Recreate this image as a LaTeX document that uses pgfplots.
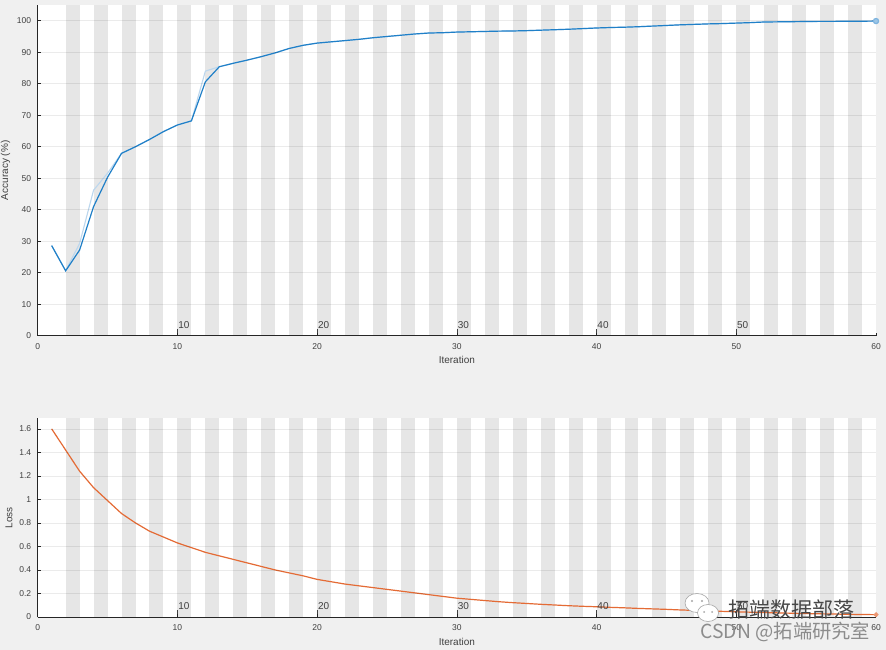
\documentclass[border=0pt]{standalone}
\usepackage{fontspec}
\setmainfont{Liberation Sans}
\newfontfamily\cjk{Noto Sans CJK SC}
\usepackage{pgfplots}
\pgfplotsset{compat=1.18}
\definecolor{bg}{HTML}{F0F0F0}
\definecolor{stripe}{HTML}{E6E6E6}
\definecolor{acc}{HTML}{2080C8}
\definecolor{accraw}{HTML}{BCD7EE}
\definecolor{loss}{HTML}{E46B35}
\definecolor{axc}{HTML}{262626}
\definecolor{tlc}{HTML}{404040}

\pgfplotstableread{
x acc raw
1 28.6 28.6
2 20.6 20.6
3 27.2 29.3
4 41.0 46.2
5 50.3 51.6
6 57.9 57.9
7 60.0 60.0
8 62.3 62.3
9 64.8 64.8
10 66.9 66.9
11 68.2 68.2
12 80.6 84.0
13 85.4 85.4
14 86.5 86.5
15 87.5 87.5
16 88.6 88.6
17 89.8 89.8
18 91.2 91.2
19 92.2 92.2
20 92.9 92.9
21 93.3 93.3
22 93.7 93.7
23 94.1 94.1
24 94.6 94.6
25 95.0 95.0
26 95.4 95.4
27 95.8 95.8
28 96.1 96.1
29 96.2 96.2
30 96.4 96.4
31 96.5 96.5
32 96.6 96.6
33 96.7 96.7
34 96.75 96.75
35 96.85 96.85
36 97.0 97.0
37 97.15 97.15
38 97.3 97.3
39 97.5 97.5
40 97.7 97.7
41 97.85 97.85
42 97.95 97.95
43 98.1 98.1
44 98.3 98.3
45 98.5 98.5
46 98.7 98.7
47 98.85 98.85
48 99.0 99.0
49 99.1 99.1
50 99.25 99.25
51 99.4 99.4
52 99.6 99.6
53 99.65 99.65
54 99.7 99.7
55 99.75 99.75
56 99.8 99.8
57 99.8 99.8
58 99.85 99.85
59 99.85 99.85
60 99.9 99.9
}\acctable

\pgfplotstableread{
x loss
1 1.60
2 1.42
3 1.24
4 1.10
5 0.99
6 0.88
7 0.80
8 0.73
9 0.68
10 0.63
11 0.59
12 0.55
13 0.52
14 0.49
15 0.46
16 0.43
17 0.40
18 0.375
19 0.35
20 0.32
21 0.30
22 0.28
23 0.265
24 0.25
25 0.235
26 0.22
27 0.205
28 0.19
29 0.175
30 0.16
31 0.15
32 0.14
33 0.13
34 0.122
35 0.115
36 0.108
37 0.102
38 0.096
39 0.091
40 0.087
41 0.082
42 0.078
43 0.073
44 0.069
45 0.065
46 0.060
47 0.056
48 0.052
49 0.048
50 0.044
51 0.041
52 0.038
53 0.035
54 0.032
55 0.029
56 0.027
57 0.025
58 0.023
59 0.021
60 0.020
}\losstable

\pgfplotsset{
  trainaxis/.style={
    scale only axis, width=838.3pt,
    xmin=0, xmax=60, xtick={0,10,...,60},
    axis background/.style={fill=white},
    axis x line*=bottom, axis y line*=left,
    axis line style={axc, line width=0.7pt, -},
    xtick pos=bottom, ytick pos=left,
    tick align=inside, major tick length=3pt,
    tick style={axc, line width=0.5pt},
    ymajorgrids, grid style={black, opacity=0.08, line width=0.7pt},
    axis on top,
    /pgf/number format/assume math mode=true,
    ticklabel style={font=\fontsize{8.5}{9}\selectfont, text=tlc},
    xticklabel style={yshift=-4.5pt},
    yticklabel style={xshift=-3pt},
    label style={font=\fontsize{10}{11}\selectfont, text=tlc},
    xlabel={Iteration},
  },
}

\newcommand\stripes[1]{%
  \pgfplotsforeachungrouped \k in {2,4,...,58}{%
    \pgfmathtruncatemacro\kk{\k+1}%
    \edef\tmp{\noexpand\fill[stripe] (axis cs:\k,0) rectangle (axis cs:\kk,#1);}%
    \tmp
  }%
}
\newcommand\epochs{%
  \pgfplotsinvokeforeach{10,20,30,40,50}{%
    \draw[tlc, line width=0.6pt] (axis cs:##1,0) -- ++(0,7pt)
      node[anchor=south west, inner sep=0pt, xshift=0.6pt, font=\fontsize{10}{10}\selectfont, text=tlc] {##1};
  }%
}

\begin{document}
\begin{tikzpicture}
\fill[bg] (0,0) rectangle (886pt,650pt);
\useasboundingbox (0,0) rectangle (886pt,650pt);

\begin{axis}[trainaxis,
  at={(37.7pt,314.3pt)}, anchor=south west, height=330.7pt,
  ymin=0, ymax=105, ytick={0,10,...,100},
  ylabel={Accuracy (\%)}]
  \stripes{105}
  \addplot[accraw, line width=1.1pt, no marks] table[x=x, y=raw] {\acctable};
  \addplot[acc, line width=1.2pt, mark=*, mark indices={60}, mark size=2.6pt,
    mark options={fill=accraw!80!acc, draw=accraw!60!acc}] table[x=x, y=acc] {\acctable};
  \epochs
\end{axis}

\begin{axis}[trainaxis,
  at={(37.7pt,33pt)}, anchor=south west, height=198.7pt,
  ymin=0, ymax=1.69, ytick={0,0.2,...,1.6},
  yticklabel style={/pgf/number format/fixed, /pgf/number format/precision=1},
  ylabel={Loss}]
  \stripes{1.69}
  \addplot[loss, line width=1.2pt, mark=*, mark indices={60}, mark size=1.8pt,
    mark options={fill=loss!70!white, draw=loss!70!white}] table[x=x, y=loss] {\losstable};
  \epochs
\end{axis}

% watermark
\begin{scope}[draw=gray!70, fill=white, line width=0.6pt]
  \filldraw (697pt,47pt) ellipse [x radius=12pt, y radius=9.5pt];
  \filldraw (708pt,37pt) ellipse [x radius=10.5pt, y radius=8.5pt];
  \fill[gray!70] (692pt,49pt) circle (1.2pt) (702pt,49pt) circle (1.2pt);
  \fill[gray!70] (704pt,38pt) circle (1pt) (712pt,38pt) circle (1pt);
\end{scope}
\node[font=\cjk\fontsize{21}{21}\selectfont, text=black!72, inner sep=0pt] at (791.7pt,40pt) {拓端数据部落};
\node[font=\cjk\fontsize{19.3}{19}\selectfont, text=black!45, inner sep=0pt] at (785.4pt,18.5pt) {CSDN @拓端研究室};
\end{tikzpicture}
\end{document}
